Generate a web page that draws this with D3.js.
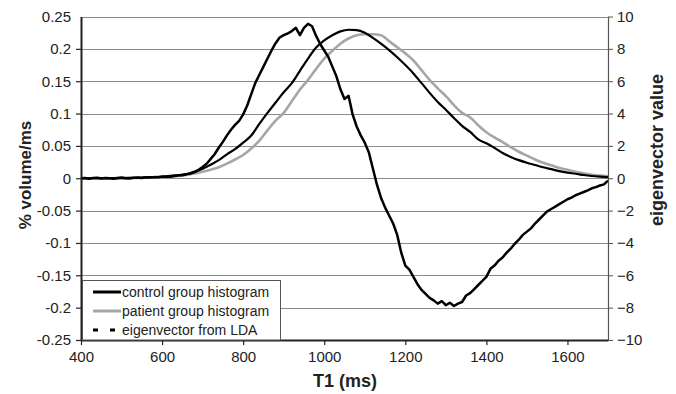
<!DOCTYPE html>
<html>
<head>
<meta charset="utf-8">
<script src="https://cdn.jsdelivr.net/npm/d3@7"></script>
<style>
  body { margin: 0; background: #fff; }
  svg { font-family: Arial, "Liberation Sans", sans-serif; }
</style>
</head>
<body>
<svg id="chart" width="676" height="394"></svg>
<script>
const MARGIN = {top: 16.5, right: 68, bottom: 54, left: 81}
const WIDTH = 676
const HEIGHT = 394

// x positions (T1, ms)
const histT = [400, 420, 440, 460, 480, 500, 520, 540, 560, 580, 600, 620, 640, 660, 680, 700, 720, 740, 760, 780,
  800, 820, 840, 860, 880, 900, 920, 940, 960, 980, 1000, 1020, 1040, 1060, 1080, 1100, 1120, 1140, 1160, 1180,
  1200, 1220, 1240, 1260, 1280, 1300, 1320, 1340, 1360, 1380, 1400, 1420, 1440, 1460, 1480, 1500, 1520, 1540, 1560, 1580,
  1600, 1620, 1640, 1660, 1680, 1700]

// % volume/ms, control group
const controlHist = [0, 0, 0, 0.0001, 0.0002, 0.0003, 0.0005, 0.0008, 0.0012, 0.0018, 0.0025, 0.0036, 0.0050, 0.0064, 0.0095, 0.0145, 0.021, 0.028, 0.037, 0.045,
  0.055, 0.066, 0.084, 0.101, 0.117, 0.133, 0.147, 0.166, 0.185, 0.202, 0.213, 0.221, 0.227, 0.2295, 0.229, 0.225, 0.217, 0.208, 0.198, 0.187,
  0.175, 0.162, 0.147, 0.132, 0.118, 0.106, 0.093, 0.081, 0.0716, 0.060, 0.054, 0.047, 0.039, 0.033, 0.028, 0.024, 0.0205, 0.017, 0.014, 0.011,
  0.0087, 0.007, 0.005, 0.0035, 0.0025, 0.0018]

// % volume/ms, patient group
const patientHist = [0, 0, 0, 0, 0.0001, 0.0002, 0.0003, 0.0005, 0.0008, 0.0012, 0.0017, 0.0025, 0.0036, 0.0052, 0.0073, 0.0100, 0.0132, 0.0170, 0.0225, 0.029,
  0.036, 0.046, 0.058, 0.074, 0.089, 0.101, 0.119, 0.137, 0.152, 0.169, 0.185, 0.197, 0.208, 0.216, 0.221, 0.2225, 0.2225, 0.221, 0.212, 0.2025,
  0.193, 0.182, 0.167, 0.152, 0.139, 0.127, 0.113, 0.101, 0.094, 0.082, 0.071, 0.063, 0.056, 0.048, 0.041, 0.035, 0.029, 0.024, 0.020, 0.016,
  0.013, 0.010, 0.0075, 0.0055, 0.004, 0.003]

const eigenT = [400, 410, 420, 430, 440, 450, 460, 470, 480, 490, 500, 510, 520, 530, 540, 550, 560, 570, 580, 590,
  600, 610, 620, 630, 640, 650, 660, 670, 680, 690, 700, 710, 720, 730, 740, 750, 760, 770, 780, 790,
  800, 810, 820, 830, 840, 850, 860, 870, 880, 890, 900, 910, 920, 930, 940, 950, 960, 970, 980, 990,
  1000, 1010, 1020, 1030, 1040, 1050, 1060, 1070, 1080, 1090, 1100, 1110, 1120, 1130, 1140, 1150, 1160, 1170, 1180, 1190,
  1200, 1210, 1220, 1230, 1240, 1250, 1260, 1270, 1280, 1290, 1300, 1310, 1320, 1330, 1340, 1350, 1360, 1370, 1380, 1390,
  1400, 1410, 1420, 1430, 1440, 1450, 1460, 1470, 1480, 1490, 1500, 1510, 1520, 1530, 1540, 1550, 1560, 1570, 1580, 1590,
  1600, 1610, 1620, 1630, 1640, 1650, 1660, 1670, 1680, 1690, 1700]

// eigenvector from LDA (right axis)
const eigenVal = [0.0, 0.02, -0.03, 0.01, 0.03, -0.02, 0.02, 0, -0.03, 0.02, 0.04, 0, -0.02, 0.03, 0.05, 0.02, 0.06, 0.04, 0.07, 0.06,
  0.09, 0.1, 0.09, 0.14, 0.17, 0.19, 0.24, 0.3, 0.4, 0.52, 0.7, 0.9, 1.2, 1.5, 1.9, 2.25, 2.65, 3.0, 3.3, 3.55,
  3.95, 4.5, 5.2, 5.9, 6.4, 6.9, 7.4, 7.9, 8.35, 8.7, 8.85, 8.95, 9.1, 9.3, 8.85, 9.3, 9.55, 9.4, 8.8, 8.3,
  7.9, 7.5, 6.9, 6.3, 5.5, 4.9, 5.1, 3.95, 3.2, 2.65, 2.2, 1.6, 0.6, -0.4, -1.2, -1.8, -2.3, -2.8, -3.5, -4.6,
  -5.4, -5.65, -6.1, -6.55, -6.9, -7.15, -7.4, -7.55, -7.75, -7.6, -7.85, -7.7, -7.9, -7.75, -7.65, -7.25, -7.1, -6.85, -6.6, -6.35,
  -6.1, -5.6, -5.4, -5.1, -4.9, -4.6, -4.35, -4.05, -3.8, -3.5, -3.3, -3.1, -2.8, -2.55, -2.3, -2.05, -1.9, -1.75, -1.6, -1.45,
  -1.3, -1.2, -1.05, -0.95, -0.85, -0.75, -0.62, -0.55, -0.45, -0.38, -0.15]

const xTicks = [400, 600, 800, 1000, 1200, 1400, 1600]
const leftTicks = [0.25, 0.2, 0.15, 0.1, 0.05, 0, -0.05, -0.1, -0.15, -0.2, -0.25]
const rightTicks = [10, 8, 6, 4, 2, 0, -2, -4, -6, -8, -10]

const legendItems = [
  {label: 'control group histogram', color: '#000', width: 3, dash: null},
  {label: 'patient group histogram', color: '#a6a6a6', width: 3, dash: null},
  {label: 'eigenvector from LDA', color: '#000', width: 3, dash: '5,12'}
]

let svg = d3.select('#chart')

svg.append('rect')
  .attr('width', WIDTH)
  .attr('height', HEIGHT)
  .attr('fill', '#fff')

let x = d3.scaleLinear()
  .domain([400, 1700])
  .range([MARGIN.left, WIDTH - MARGIN.right])

let yLeft = d3.scaleLinear()
  .domain([-0.25, 0.25])
  .range([HEIGHT - MARGIN.bottom, MARGIN.top])

let yRight = d3.scaleLinear()
  .domain([-10, 10])
  .range([HEIGHT - MARGIN.bottom, MARGIN.top])

// gridlines
svg.append('g')
  .selectAll('line')
  .data(leftTicks.filter(d => d > -0.25))
  .join('line')
  .attr('x1', x(400))
  .attr('x2', x(1700))
  .attr('y1', d => Math.round(yLeft(d)) + 0.5)
  .attr('y2', d => Math.round(yLeft(d)) + 0.5)
  .attr('stroke', '#8c8c8c')
  .attr('stroke-width', 1)

// curves
let histLine = (vals) => d3.line()
  .x((d, i) => x(histT[i]))
  .y(d => yLeft(d))
  .curve(d3.curveMonotoneX)(vals)

svg.append('path')
  .attr('d', histLine(patientHist))
  .attr('fill', 'none')
  .attr('stroke', '#a6a6a6')
  .attr('stroke-width', 2.6)

svg.append('path')
  .attr('d', histLine(controlHist))
  .attr('fill', 'none')
  .attr('stroke', '#000')
  .attr('stroke-width', 2.2)

let eigenLine = d3.line()
  .x((d, i) => x(eigenT[i]))
  .y(d => yRight(d))

svg.append('path')
  .attr('d', eigenLine(eigenVal))
  .attr('fill', 'none')
  .attr('stroke', '#000')
  .attr('stroke-width', 2.5)
  .attr('stroke-linejoin', 'round')

// axes
let xAxis = svg.append('g')
  .attr('transform', 'translate(0,' + (HEIGHT - MARGIN.bottom) + ')')
  .call(d3.axisBottom(x).tickValues(xTicks).tickSize(5).tickSizeOuter(0).tickPadding(6)
    .tickFormat(d3.format('d')))

let leftAxis = svg.append('g')
  .attr('transform', 'translate(' + MARGIN.left + ',0)')
  .call(d3.axisLeft(yLeft).tickValues(leftTicks).tickSize(5).tickSizeOuter(0).tickPadding(5)
    .tickFormat(d => String(+d.toFixed(2))))

let rightAxis = svg.append('g')
  .attr('transform', 'translate(' + (WIDTH - MARGIN.right) + ',0)')
  .call(d3.axisRight(yRight).tickValues(rightTicks).tickSize(5).tickSizeOuter(0).tickPadding(4))

;[xAxis, leftAxis].forEach(a => {
  a.select('.domain').attr('stroke', '#222').attr('stroke-width', 2)
  a.selectAll('.tick line').attr('stroke', '#222').attr('stroke-width', 1.2)
})
rightAxis.select('.domain').attr('stroke', '#555').attr('stroke-width', 1.2)
rightAxis.selectAll('.tick line').attr('stroke', '#555')

;[xAxis, leftAxis, rightAxis].forEach(a => {
  a.selectAll('.tick text')
    .style('font-size', '15px')
    .attr('fill', '#222')
})
leftAxis.selectAll('.tick line').filter(d => d === 0.25).remove()

// titles
svg.append('text')
  .attr('x', 345)
  .attr('y', 387)
  .attr('text-anchor', 'middle')
  .style('font-size', '18px')
  .style('font-weight', 'bold')
  .attr('fill', '#222')
  .text('T1 (ms)')

svg.append('text')
  .attr('transform', 'translate(31,175) rotate(-90)')
  .attr('text-anchor', 'middle')
  .style('font-size', '17px')
  .style('font-weight', 'bold')
  .attr('fill', '#222')
  .text('% volume/ms')

svg.append('text')
  .attr('transform', 'translate(663,150) rotate(-90)')
  .attr('text-anchor', 'middle')
  .style('font-size', '18px')
  .style('font-weight', 'bold')
  .attr('fill', '#222')
  .text('eigenvector value')

// legend
let legend = svg.append('g')

legend.append('rect')
  .attr('x', 82.5)
  .attr('y', 280.5)
  .attr('width', 198)
  .attr('height', HEIGHT - MARGIN.bottom - 280.5)
  .attr('fill', '#fff')
  .attr('stroke', '#555')
  .attr('stroke-width', 1)

let rows = legend.selectAll('g.item')
  .data(legendItems)
  .join('g')
  .attr('class', 'item')
  .attr('transform', (d, i) => 'translate(0,' + (292 + i * 19) + ')')

rows.append('line')
  .attr('x1', 93)
  .attr('x2', d => d.dash ? 115 : 121)
  .attr('stroke', d => d.color)
  .attr('stroke-width', d => d.width)
  .attr('stroke-dasharray', d => d.dash)

rows.append('text')
  .attr('x', 122)
  .attr('y', 5)
  .style('font-size', '14px')
  .attr('fill', '#222')
  .text(d => d.label)
</script>
</body>
</html>
